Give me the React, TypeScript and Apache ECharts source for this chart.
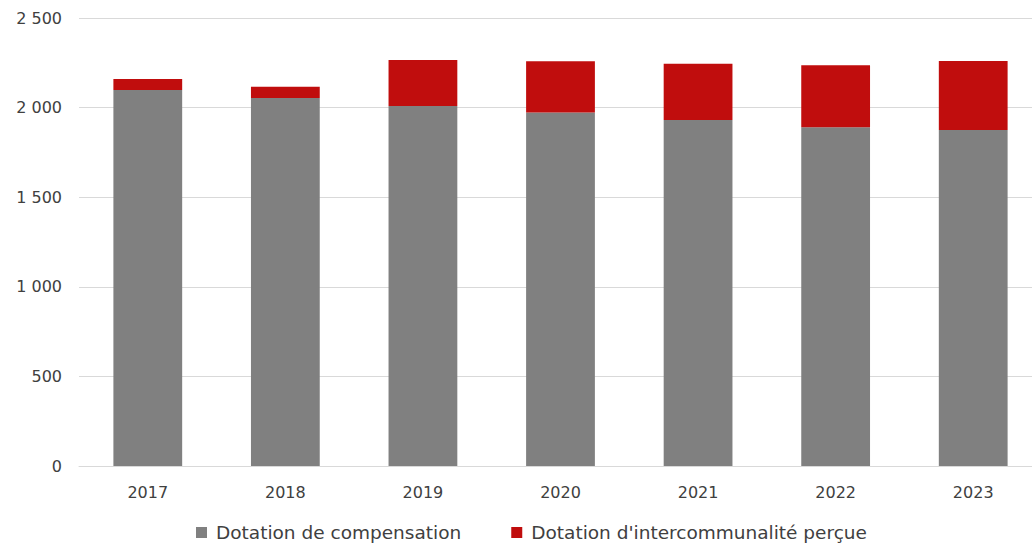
import React, { useEffect, useRef } from "react";
import * as echarts from "echarts";

const categories = ["2017", "2018", "2019", "2020", "2021", "2022", "2023"];
const compensation = [2098, 2054, 2009, 1972, 1931, 1890, 1875];
const intercommunalite = [62, 63, 257, 286, 314, 346, 385];
const seriesNames = ["Dotation de compensation", "Dotation d'intercommunalité perçue"];

const fmt = (v: number) => String(v).replace(/\B(?=(\d{3})+(?!\d))/g, " ");

export default function App() {
  const ref = useRef<HTMLDivElement>(null);
  useEffect(() => {
    document.body.style.margin = "0";
    const chart = echarts.init(ref.current!, null, { renderer: "svg" });
    const font = "'DejaVu Sans', sans-serif";
    chart.setOption({
      animation: false,
      textStyle: { fontFamily: font },
      grid: { left: 79, width: 963, top: 18, bottom: 79, containLabel: false, outerBoundsMode: "none" },
      legend: {
        bottom: -2,
        left: 191,
        itemWidth: 11,
        itemHeight: 11,
        itemGap: 50,
        icon: "rect",
        textStyle: { fontSize: 18.5, color: "#404040", fontFamily: font, padding: [0, 0, 0, 4] },
        data: seriesNames,
      },
      xAxis: {
        type: "category",
        data: categories,
        axisLine: { lineStyle: { color: "#d9d9d9", width: 1 } },
        axisTick: { show: false },
        axisLabel: { fontSize: 16, color: "#404040", margin: 18, fontFamily: font },
      },
      yAxis: {
        type: "value",
        min: 0,
        max: 2500,
        interval: 500,
        axisLine: { show: false },
        axisTick: { show: false },
        splitLine: { lineStyle: { color: "#d9d9d9", width: 1 } },
        axisLabel: { fontSize: 16, color: "#404040", margin: 17, fontFamily: font, formatter: (v: number) => fmt(v) },
      },
      series: [
        {
          name: seriesNames[0],
          type: "bar",
          stack: "total",
          data: compensation,
          barCategoryGap: "50%",
          itemStyle: { color: "#808080" },
        },
        {
          name: seriesNames[1],
          type: "bar",
          stack: "total",
          data: intercommunalite,
          barCategoryGap: "50%",
          itemStyle: { color: "#C00D0D" },
        },
      ],
    });
    return () => chart.dispose();
  }, []);
  return <div ref={ref} style={{ width: 1032, height: 545 }} />;
}
